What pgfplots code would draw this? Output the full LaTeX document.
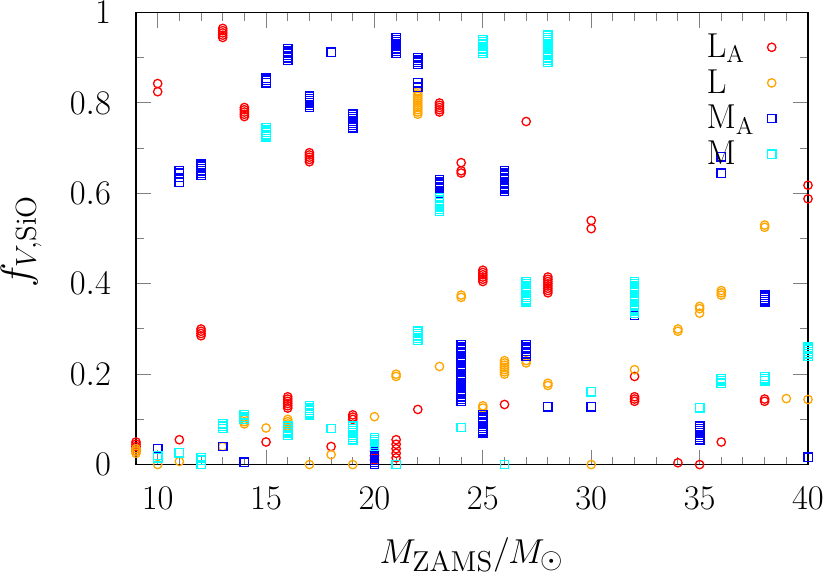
\documentclass[border=0pt]{standalone}
\usepackage{pgfplots}
\pgfplotsset{compat=1.18}
\usepackage{pgfplotstable}

\definecolor{cLA}{RGB}{255,0,0}
\definecolor{cL}{RGB}{255,165,0}
\definecolor{cMA}{RGB}{0,0,255}
\definecolor{cM}{RGB}{0,255,255}

% L_A
\pgfplotstableread{
m f
9 0.030
9 0.035
9 0.040
9 0.045
9 0.050
10 0.825
10 0.843
11 0.055
12 0.285
12 0.290
12 0.295
12 0.300
13 0.945
13 0.950
13 0.955
13 0.960
13 0.965
14 0.770
14 0.775
14 0.780
14 0.785
14 0.790
15 0.050
16 0.125
16 0.130
16 0.135
16 0.140
16 0.145
16 0.150
17 0.670
17 0.675
17 0.680
17 0.685
17 0.690
18 0.040
19 0.100
19 0.105
19 0.110
20 0.010
20 0.020
20 0.030
21 0.015
21 0.025
21 0.035
21 0.045
21 0.055
22 0.122
23 0.780
23 0.785
23 0.790
23 0.795
23 0.800
24 0.645
24 0.650
24 0.668
25 0.405
25 0.410
25 0.415
25 0.420
25 0.425
25 0.430
26 0.133
27 0.759
28 0.380
28 0.385
28 0.390
28 0.395
28 0.400
28 0.405
28 0.410
28 0.415
30 0.522
30 0.540
32 0.140
32 0.145
32 0.150
32 0.195
34 0.004
35 0.000
36 0.050
38 0.140
38 0.145
40 0.588
40 0.618
}\dataLA

% L
\pgfplotstableread{
m f
9 0.025
9 0.030
9 0.035
10 0.000
11 0.007
13 0.040
14 0.090
14 0.095
14 0.100
15 0.081
16 0.080
16 0.085
16 0.090
16 0.095
16 0.100
17 0.000
18 0.022
19 0.000
20 0.106
21 0.195
21 0.200
22 0.775
22 0.780
22 0.785
22 0.790
22 0.795
22 0.800
22 0.805
22 0.810
22 0.815
22 0.820
22 0.825
23 0.217
24 0.370
24 0.375
25 0.125
25 0.130
26 0.200
26 0.205
26 0.210
26 0.215
26 0.220
26 0.225
26 0.230
27 0.225
27 0.230
28 0.175
28 0.180
30 0.000
32 0.210
34 0.295
34 0.300
35 0.335
35 0.345
35 0.350
36 0.375
36 0.380
36 0.385
38 0.525
38 0.530
39 0.146
40 0.144
}\dataL

% M_A
\pgfplotstableread{
m f
10 0.035
11 0.625
11 0.635
11 0.645
11 0.650
12 0.640
12 0.645
12 0.650
12 0.655
12 0.660
12 0.665
13 0.040
14 0.005
15 0.845
15 0.850
15 0.855
16 0.895
16 0.900
16 0.905
16 0.910
16 0.915
16 0.920
17 0.790
17 0.795
17 0.800
17 0.805
17 0.810
17 0.815
18 0.912
19 0.745
19 0.750
19 0.755
19 0.760
19 0.765
19 0.770
19 0.775
20 0.000
20 0.005
20 0.010
20 0.015
20 0.020
20 0.025
20 0.030
20 0.035
21 0.910
21 0.915
21 0.920
21 0.925
21 0.930
21 0.935
21 0.940
21 0.945
22 0.835
22 0.845
22 0.885
22 0.890
22 0.895
22 0.900
23 0.600
23 0.605
23 0.610
23 0.615
23 0.620
23 0.625
23 0.630
24 0.140
24 0.145
24 0.150
24 0.155
24 0.160
24 0.165
24 0.170
24 0.175
24 0.180
24 0.185
24 0.190
24 0.195
24 0.200
24 0.205
24 0.210
24 0.215
24 0.220
24 0.225
24 0.230
24 0.235
24 0.240
24 0.245
24 0.250
24 0.255
24 0.260
24 0.265
25 0.070
25 0.075
25 0.080
25 0.085
25 0.090
25 0.095
25 0.100
25 0.105
25 0.110
26 0.605
26 0.610
26 0.615
26 0.620
26 0.625
26 0.630
26 0.635
26 0.640
26 0.645
26 0.650
27 0.240
27 0.245
27 0.250
27 0.255
27 0.260
27 0.265
28 0.128
30 0.128
32 0.330
32 0.335
32 0.340
32 0.345
32 0.350
35 0.055
35 0.060
35 0.065
35 0.070
35 0.075
35 0.080
35 0.085
36 0.645
36 0.681
38 0.360
38 0.365
38 0.370
38 0.375
40 0.016
}\dataMA

% M
\pgfplotstableread{
m f
10 0.015
10 0.020
11 0.026
12 0.000
12 0.010
12 0.015
13 0.080
13 0.085
13 0.090
14 0.100
14 0.105
14 0.110
15 0.725
15 0.730
15 0.735
15 0.740
15 0.745
16 0.065
16 0.070
16 0.075
16 0.080
16 0.085
17 0.110
17 0.115
17 0.120
17 0.125
17 0.130
18 0.080
19 0.055
19 0.060
19 0.065
19 0.070
19 0.075
19 0.080
19 0.085
20 0.040
20 0.045
20 0.050
20 0.055
20 0.060
21 0.000
22 0.275
22 0.280
22 0.285
22 0.290
22 0.295
23 0.560
23 0.565
23 0.570
23 0.575
23 0.580
23 0.585
23 0.590
24 0.082
25 0.910
25 0.915
25 0.920
25 0.925
25 0.930
25 0.935
25 0.940
26 0.000
27 0.360
27 0.365
27 0.370
27 0.375
27 0.380
27 0.385
27 0.390
27 0.395
27 0.400
27 0.405
28 0.890
28 0.895
28 0.900
28 0.905
28 0.910
28 0.915
28 0.920
28 0.925
28 0.930
28 0.935
28 0.940
28 0.945
28 0.950
30 0.161
32 0.335
32 0.340
32 0.345
32 0.350
32 0.355
32 0.360
32 0.365
32 0.370
32 0.375
32 0.380
32 0.385
32 0.390
32 0.395
32 0.400
32 0.405
35 0.126
36 0.180
36 0.185
36 0.190
38 0.185
38 0.190
38 0.195
40 0.240
40 0.245
40 0.250
40 0.255
40 0.260
}\dataM

\begin{document}
\begin{tikzpicture}
\begin{axis}[
    name=ax,
    scale only axis,
    width=336pt, height=226pt,
    xmin=9, xmax=40, ymin=0, ymax=1,
    xtick={10,15,...,40}, minor x tick num=4,
    ytick={0,0.2,0.4,0.6,0.8,1}, minor y tick num=1,
    tick align=inside,
    major tick length=7.5pt, minor tick length=4pt,
    axis line style={line width=0.7pt},
    tick style={line width=0.5pt},
    tick label style={font=\fontsize{17}{20}\selectfont},
    xticklabel style={yshift=-8pt},
    yticklabel style={xshift=-9pt},
    xlabel={$M_{\mathrm{ZAMS}}/M_{\odot}$},
    ylabel={$f_{V,\mathrm{SiO}}$},
    xlabel style={font=\fontsize{19}{22}\selectfont,
        at={(axis description cs:0.5,-0.2)}, anchor=center},
    ylabel style={font=\fontsize{20}{23}\selectfont, inner sep=0pt,
        at={(axis description cs:-0.171,0.494)}, anchor=center},
    clip=false,
    legend plot pos=right,
    legend cell align=left,
    legend style={draw=none, fill=none,
        font=\fontsize{18}{18}\selectfont,
        at={(axis description cs:0.835,0.969)}, anchor=north west,
        row sep=1.5pt, column sep=5pt,
        nodes={inner sep=1.5pt}},
    every axis plot/.append style={only marks, mark size=2.1pt,
        legend image code/.code={\draw[##1] plot coordinates {(0cm,0cm)};}},
]
\addplot[cLA, mark=o, mark options={line width=0.65pt}]
    table[x=m, y=f] {\dataLA};
\addlegendentry{$\mathrm{L_A}$}
\addplot[cL, mark=o, mark options={line width=0.65pt}]
    table[x=m, y=f] {\dataL};
\addlegendentry{$\mathrm{L}$}
\addplot[cMA, mark=square, mark options={line width=0.7pt}]
    table[x=m, y=f] {\dataMA};
\addlegendentry{$\mathrm{M_A}$}
\addplot[cM, mark=square, mark options={line width=0.7pt}]
    table[x=m, y=f] {\dataM};
\addlegendentry{$\mathrm{M}$}
\end{axis}
\pgfresetboundingbox
\path ([xshift=-68pt,yshift=-55.5pt]ax.south west)
    rectangle ([xshift=11pt,yshift=6.3pt]ax.north east);
\end{tikzpicture}
\end{document}
